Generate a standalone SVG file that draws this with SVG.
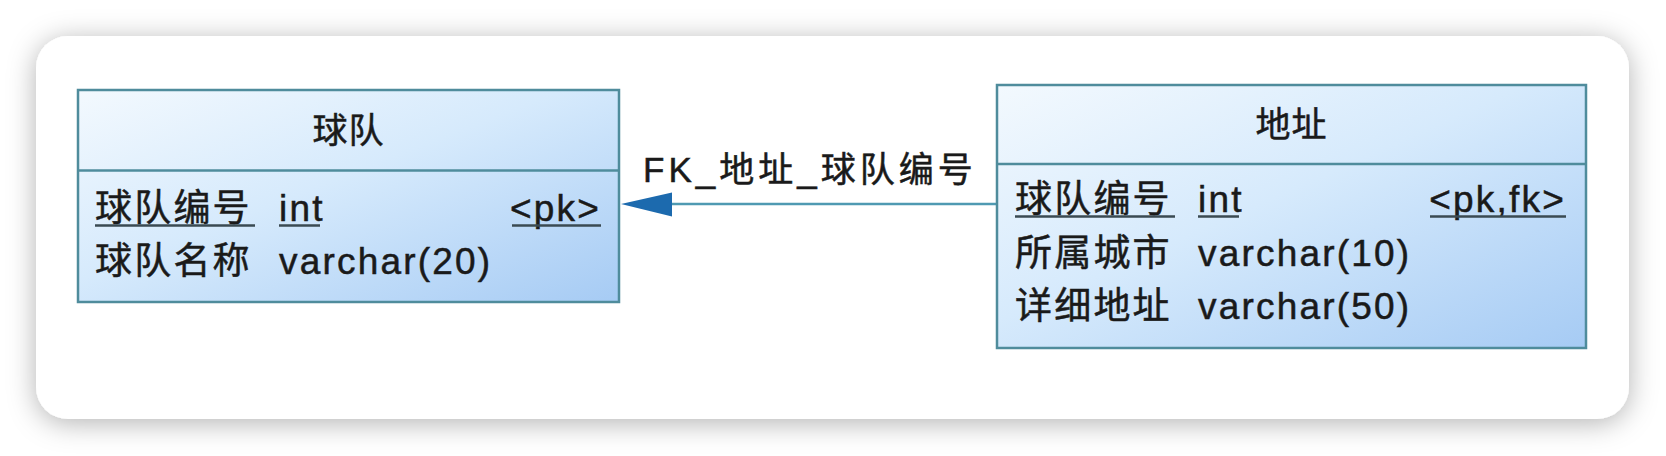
<svg xmlns="http://www.w3.org/2000/svg" width="1666" height="456" viewBox="0 0 1666 456">
<style>
.t{font-family:"Liberation Sans","Noto Sans CJK SC",sans-serif;fill:#1a1a1a;stroke:#1a1a1a;stroke-width:0.5}
.f{font-size:37px;letter-spacing:2.2px}
.h{font-size:35px;letter-spacing:1px}
.lbl{font-size:35px;letter-spacing:4px}
.box{stroke:#4f8c9c;stroke-width:2.5}
.div{stroke:#4f8c9c;stroke-width:2.5}
.ul{stroke:#3a4a52;stroke-width:2.5}
.conn{stroke:#4f9ab2;stroke-width:2.5;fill:none}
</style>
<defs>
<linearGradient id="g" x1="0" y1="0" x2="1" y2="1">
<stop offset="0" stop-color="#f3f9fe"/>
<stop offset="0.45" stop-color="#d6eafc"/>
<stop offset="1" stop-color="#a6cbf4"/>
</linearGradient>
<filter id="sh" x="-5%" y="-20%" width="110%" height="140%">
<feDropShadow dx="0" dy="4" stdDeviation="14" flood-color="#000" flood-opacity="0.3"/>
</filter>
</defs>
<rect width="1666" height="456" fill="#ffffff"/>
<rect x="36" y="36" width="1593" height="383" rx="32" fill="#ffffff" filter="url(#sh)"/>

<g id="connectors">
<line class="conn" x1="997" y1="204" x2="672" y2="204"/>
<path d="M672,192.5 L621,204 L672,216.5 Z" fill="#1c6aae"/>
<text class="t lbl" x="643" y="182">FK_地址_球队编号</text>
</g>

<g id="team">
<rect class="box" x="78" y="90" width="541" height="212" fill="url(#g)"/>
<line class="div" x1="78" y1="170.5" x2="619" y2="170.5"/>
<text class="t h" x="348.5" y="143" text-anchor="middle">球队</text>
<text class="t f" x="95" y="221">球队编号</text>
<text class="t f" x="279" y="221">int</text>
<text class="t f" x="601" y="221" text-anchor="end">&lt;pk&gt;</text>
<line class="ul" x1="95" y1="225.5" x2="255" y2="225.5"/>
<line class="ul" x1="279" y1="225.5" x2="320" y2="225.5"/>
<line class="ul" x1="512" y1="225.5" x2="601" y2="225.5"/>
<text class="t f" x="95" y="274">球队名称</text>
<text class="t f" x="279" y="274">varchar(20)</text>
</g>

<g id="address">
<rect class="box" x="997" y="85" width="589" height="263" fill="url(#g)"/>
<line class="div" x1="997" y1="164" x2="1586" y2="164"/>
<text class="t h" x="1291.5" y="137" text-anchor="middle">地址</text>
<text class="t f" x="1015" y="212">球队编号</text>
<text class="t f" x="1198" y="212">int</text>
<text class="t f" x="1566" y="212" text-anchor="end">&lt;pk,fk&gt;</text>
<line class="ul" x1="1015" y1="216.5" x2="1175" y2="216.5"/>
<line class="ul" x1="1198" y1="216.5" x2="1239" y2="216.5"/>
<line class="ul" x1="1430" y1="216.5" x2="1566" y2="216.5"/>
<text class="t f" x="1015" y="266">所属城市</text>
<text class="t f" x="1198" y="266">varchar(10)</text>
<text class="t f" x="1015" y="319">详细地址</text>
<text class="t f" x="1198" y="319">varchar(50)</text>
</g>
</svg>
